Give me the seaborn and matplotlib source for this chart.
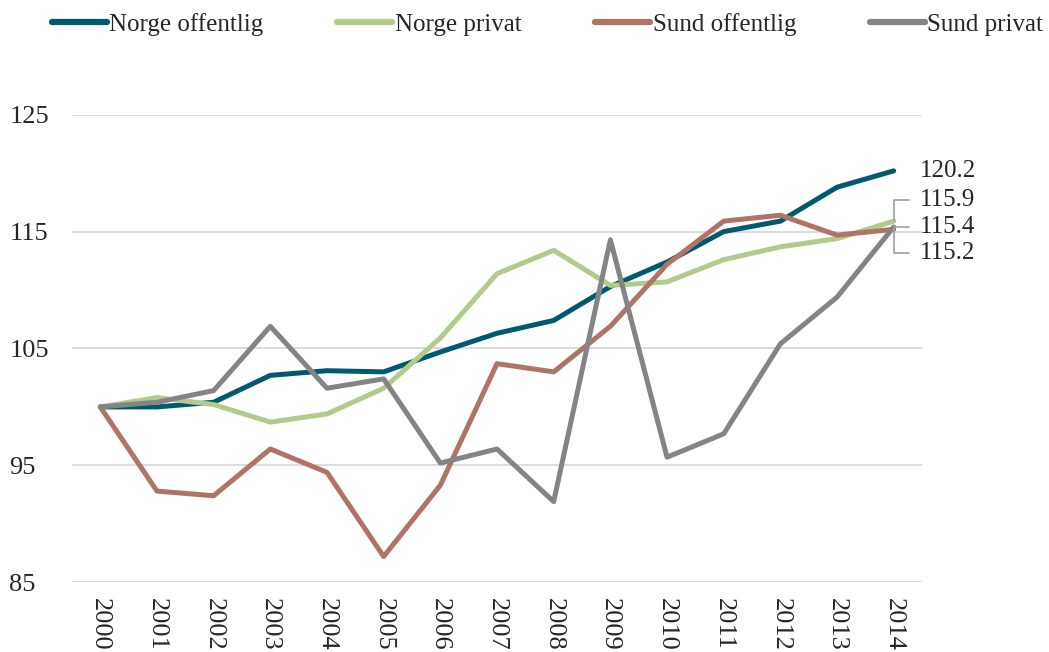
import pandas as pd
import matplotlib.pyplot as plt
import seaborn as sns

# -----------------------------
# Data (index, 2000 = 100)
# -----------------------------
years = list(range(2000, 2015))
norge_offentlig = [100.0, 100.0, 100.4, 102.7, 103.1, 103.0, 104.7, 106.3,
                   107.4, 110.3, 112.4, 115.0, 115.9, 118.8, 120.2]
norge_privat = [100.0, 100.8, 100.2, 98.7, 99.4, 101.6, 105.9, 111.4,
                113.4, 110.4, 110.7, 112.6, 113.7, 114.4, 115.9]
sund_offentlig = [100.0, 92.8, 92.4, 96.4, 94.4, 87.2, 93.3, 103.7,
                  103.0, 106.9, 112.2, 115.9, 116.4, 114.7, 115.2]
sund_privat = [100.0, 100.4, 101.4, 106.9, 101.6, 102.4, 95.2, 96.4,
               91.9, 114.3, 95.7, 97.7, 105.4, 109.4, 115.4]

series_names = ["Norge offentlig", "Norge privat", "Sund offentlig", "Sund privat"]
colors = ["#005a6e", "#b2cb8d", "#b07368", "#848487"]
y_ticks = [85, 95, 105, 115, 125]

df = pd.DataFrame({
    "year": years * 4,
    "value": norge_offentlig + norge_privat + sund_offentlig + sund_privat,
    "series": sum([[n] * len(years) for n in series_names], []),
})

# -----------------------------
# Plot
# -----------------------------
sns.set_style("white")
plt.rcParams["font.family"] = ["Liberation Serif", "DejaVu Serif"]
plt.rcParams["font.size"] = 18

fig = plt.figure(figsize=(10.49, 6.52), dpi=100)
ax = fig.add_axes([0.0686, 0.107, 0.879 - 0.0686, 0.824 - 0.107])

sns.lineplot(data=df, x="year", y="value", hue="series", hue_order=series_names,
             palette=colors, linewidth=3.6, ax=ax, legend=True)

ax.set_xlim(1999.5, 2014.5)
ax.set_ylim(85, 125)
ax.set_yticks(y_ticks)
ax.set_xticks(years)
ax.set_xticklabels([str(y) for y in years], rotation=270)
ax.yaxis.grid(True, color="#d9d9d9", linewidth=1.3)
ax.xaxis.grid(False)
ax.set_axisbelow(True)
for s in ax.spines.values():
    s.set_visible(False)
ax.set_xlabel("")
ax.set_ylabel("")
ax.tick_params(axis="x", length=0, pad=11, labelsize=19)
ax.tick_params(axis="y", length=0, pad=45, labelsize=19)
for lbl in ax.get_yticklabels():
    lbl.set_horizontalalignment("left")

# legend across the top
handles, labels = ax.get_legend_handles_labels()
ax.get_legend().remove()
for h in handles:
    h.set_linewidth(4.5)
fig.legend(handles, labels, loc="center", bbox_to_anchor=(0.522, 0.963), ncol=4,
           frameon=False, fontsize=18, handlelength=2.2, handletextpad=0.1,
           columnspacing=2.95)

# end labels
last = {
    "Norge offentlig": (norge_offentlig[-1], 0, False),
    "Norge privat": (norge_privat[-1], 15, True),
    "Sund privat": (sund_privat[-1], 0, True),
    "Sund offentlig": (sund_offentlig[-1], -17, True),
}
for name, (val, dy, leader) in last.items():
    arrow = None
    if leader:
        arrow = dict(arrowstyle="-", color="#a6a6a6", lw=1.3,
                     connectionstyle="angle,angleA=0,angleB=90,rad=0",
                     shrinkA=6, shrinkB=0)
    ax.annotate(f"{val:.1f}", xy=(years[-1], val), xytext=(19, dy),
                textcoords="offset points", ha="left", va="center",
                fontsize=18, arrowprops=arrow, annotation_clip=False)

plt.savefig("out.png", dpi=100)
plt.close()
